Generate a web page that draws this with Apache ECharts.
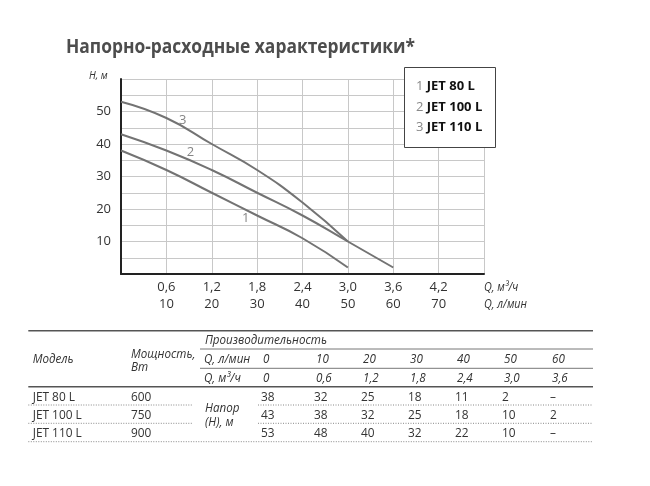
<!DOCTYPE html>
<html>
<head>
<meta charset="utf-8">
<script src="https://cdn.jsdelivr.net/npm/echarts@6/dist/echarts.min.js"></script>
<style>html,body{margin:0;padding:0;background:#fff}#c{width:650px;height:486px}</style>
</head>
<body>
<div id="c"></div>
<script>
// ---- data ----
var models = ['JET 80 L', 'JET 100 L', 'JET 110 L'];
var powerW = ['600', '750', '900'];
var flowM3 = [0, 0.6, 1.2, 1.8, 2.4, 3.0, 3.6];
var flowM3Text = ['0', '0,6', '1,2', '1,8', '2,4', '3,0', '3,6'];
var flowLmin = ['0', '10', '20', '30', '40', '50', '60'];
var head1 = [38, 32, 25, 18, 11, 2, null];
var head2 = [43, 38, 32, 25, 18, 10, 2];
var head3 = [53, 48, 40, 32, 22, 10, null];
var xTickM3 = ['0,6', '1,2', '1,8', '2,4', '3,0', '3,6', '4,2'];
var xTickLmin = ['10', '20', '30', '40', '50', '60', '70'];
var curveNames = ['1', '2', '3'];
var curveLabelAt = [[1.65, 17.1], [0.92, 37.3], [0.815, 47.4]];

var heads = [head1, head2, head3];
function pts(h) {
  var out = [];
  for (var i = 0; i < flowM3.length; i++) if (h[i] != null) out.push([flowM3[i], h[i]]);
  return out;
}

var FONT = '"Open Sans", "Noto Sans", sans-serif';
var chart = echarts.init(document.getElementById('c'), null, {renderer: 'canvas'});

function txt(x, y, s, o) {
  o = o || {};
  return {
    type: 'text', x: x, y: y, z: 100, scaleX: o.sx || 0.9, silent: true,
    style: {
      x: 0, y: 0, text: s, fill: o.color || '#333',
      font: (o.style || '') + ' ' + (o.weight || 'normal') + ' ' + (o.size || 13) + 'px ' + FONT,
      textAlign: o.align || 'left', textVerticalAlign: 'middle'
    }
  };
}
function line(x1, x2, y, w, dash, color) {
  return {
    type: 'line', z: 100, silent: true,
    shape: {x1: x1, y1: y, x2: x2, y2: y},
    style: {stroke: color || '#666', lineWidth: w, lineDash: dash || null}
  };
}

var g = [];
// title
g.push(txt(66, 47, 'Напорно-расходные характеристики*', {weight: 'bold', size: 20, color: '#4d4d4d', sx: 0.87}));
// axis names
g.push(txt(89, 76, 'H, м', {style: 'italic', size: 11, color: '#333', sx: 0.9}));
g.push(txt(484, 288, 'Q, м³/ч', {style: 'italic', size: 12, color: '#333', sx: 0.9}));
g.push(txt(484, 305, 'Q, л/мин', {style: 'italic', size: 12, color: '#333', sx: 0.9}));
// legend box
g.push({type: 'rect', z: 99, silent: true, shape: {x: 404.5, y: 67.5, width: 91, height: 80},
  style: {fill: '#fff', stroke: '#444', lineWidth: 1}});
for (var i = 0; i < models.length; i++) {
  g.push({type: 'text', z: 100, silent: true, x: 416, y: 86 + i * 20.8,
    style: {x: 0, y: 0, textVerticalAlign: 'middle',
      text: '{n|' + curveNames[i] + '} {m|' + models[i] + '}',
      rich: {n: {fill: '#888', font: 'normal 13px ' + FONT}, m: {fill: '#111', font: 'bold 13px ' + FONT}}}});
}
// table
var TL = 28.3, TR = 593, cx = [261, 314, 361, 408, 455, 502, 550];
var IT = {style: 'italic', sx: 0.86, size: 13.5};
var RG = {sx: 0.88, size: 13.5};
g.push(line(TL, TR, 330.7, 1.5, null, '#555'));
g.push(txt(205, 340, 'Производительность', IT));
g.push(line(200, TR, 349, 1, null, '#777'));
g.push(txt(32.7, 359.3, 'Модель', IT));
g.push(txt(131, 354.3, 'Мощность,', IT));
g.push(txt(131, 366.7, 'Вт', IT));
g.push(txt(204, 359.3, 'Q, л/мин', IT));
g.push(line(200, TR, 368.3, 1, null, '#777'));
g.push(txt(204, 378.3, 'Q, м³/ч', IT));
for (var k = 0; k < cx.length; k++) {
  g.push(txt(cx[k] + 2, 359.3, flowLmin[k], IT));
  g.push(txt(cx[k] + 2, 378.3, flowM3Text[k], IT));
}
g.push(line(TL, TR, 386.7, 1.5, null, '#555'));
var rowY = [396.7, 415, 433.3];
for (var r = 0; r < models.length; r++) {
  g.push(txt(32.7, rowY[r], models[r], RG));
  g.push(txt(131, rowY[r], powerW[r], RG));
  for (var k2 = 0; k2 < cx.length; k2++) {
    var v = heads[r][k2];
    g.push(txt(cx[k2], rowY[r], v == null ? '–' : String(v), RG));
  }
}
g.push(txt(205, 408.3, 'Напор', IT));
g.push(txt(205, 421.7, '(Н), м', IT));
g.push(line(TL, 193, 405, 1, [1, 1.5], '#888'));
g.push(line(258, TR, 405, 1, [1, 1.5], '#888'));
g.push(line(TL, 193, 423.3, 1, [1, 1.5], '#888'));
g.push(line(258, TR, 423.3, 1, [1, 1.5], '#888'));
g.push(line(TL, TR, 441.7, 1, [1, 1.5], '#888'));

var series = heads.map(function (h) {
  return {type: 'line', data: pts(h), smooth: 0.5, symbol: 'none',
    lineStyle: {color: '#737373', width: 2}, z: 5};
});
series.push({
  type: 'scatter', symbolSize: 1, itemStyle: {color: 'rgba(0,0,0,0)'}, z: 6,
  data: curveLabelAt.map(function (p, i) { return {value: p, name: curveNames[i]}; }),
  label: {show: true, position: 'inside', formatter: '{b}', color: '#666', fontSize: 13, fontFamily: FONT}
});

chart.setOption({
  backgroundColor: '#fff',
  animation: false,
  grid: {left: 121, top: 79, right: 166, bottom: 212, containLabel: false},
  xAxis: {
    type: 'value', min: 0, max: 4.8, interval: 0.6,
    axisLine: {show: true, onZero: false, lineStyle: {color: '#222', width: 2}},
    axisTick: {show: false},
    splitLine: {show: true, lineStyle: {color: '#c8c8c8', width: 1}},
    axisLabel: {
      margin: 5, lineHeight: 17, color: '#333', fontSize: 13, fontFamily: FONT,
      formatter: function (val) {
        var idx = Math.round(val / 0.6) - 1;
        if (idx < 0 || idx >= xTickM3.length) return '';
        return xTickM3[idx] + '\n' + xTickLmin[idx];
      }
    }
  },
  yAxis: {
    type: 'value', min: 0, max: 60, interval: 5,
    axisLine: {show: true, lineStyle: {color: '#222', width: 2}},
    axisTick: {show: false},
    splitLine: {show: true, lineStyle: {color: '#c8c8c8', width: 1}},
    axisLabel: {
      margin: 10, color: '#333', fontSize: 13, fontFamily: FONT, padding: [0, 0, 10, 0],
      formatter: function (val) {
        return (val % 10 === 0 && val >= 10 && val <= 50) ? String(val) : '';
      }
    }
  },
  series: series,
  graphic: {elements: g}
});
</script>
</body>
</html>
